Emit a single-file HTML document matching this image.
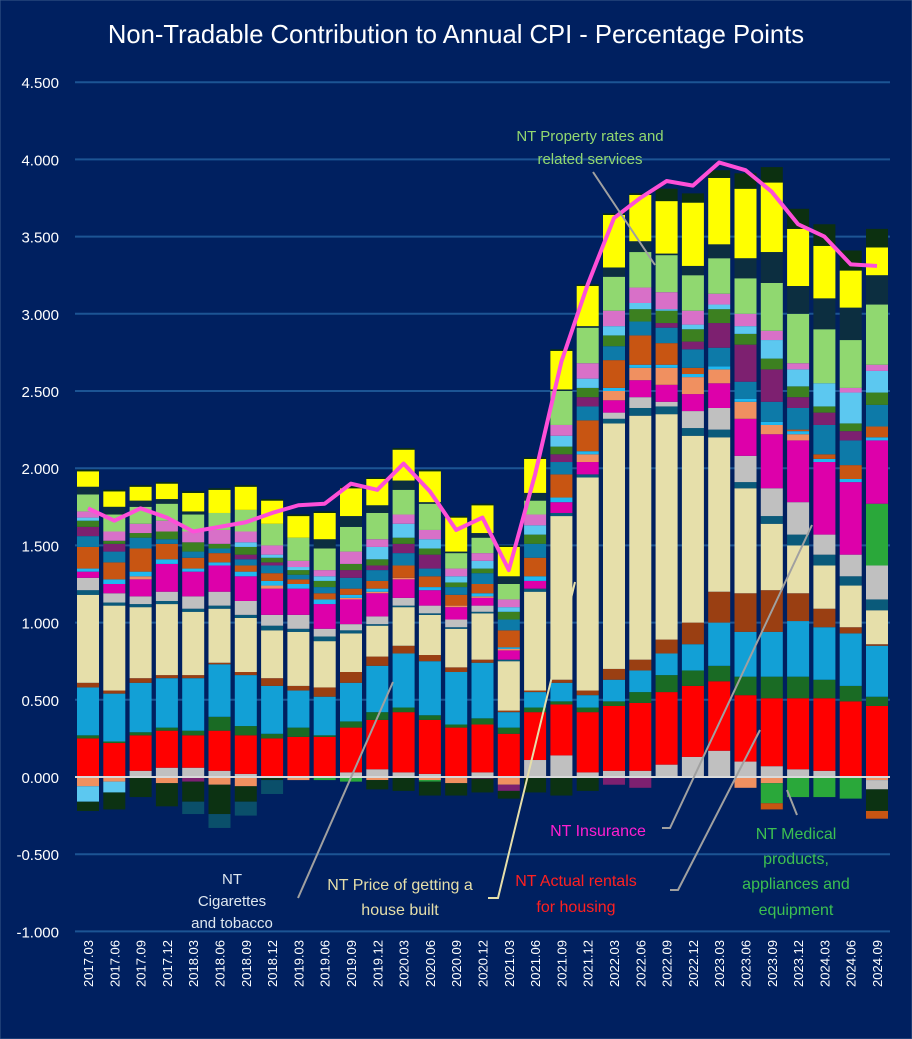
<!DOCTYPE html>
<html><head><meta charset="utf-8"><style>
html,body{margin:0;padding:0;background:#002060;}
svg{display:block;font-family:"Liberation Sans",sans-serif;}
</style></head><body>
<svg id="chart" width="912" height="1039" viewBox="0 0 912 1039" xmlns="http://www.w3.org/2000/svg">
<rect x="0" y="0" width="912" height="1039" fill="#002060" stroke="#3a5a8a" stroke-width="1"/>
<text x="456" y="43" fill="#ffffff" font-size="25.6" text-anchor="middle">Non-Tradable Contribution to Annual CPI - Percentage Points</text>
<g id="grid"></g><g id="bars"></g><g id="zero"></g><g id="line"></g><g id="labels"></g>
<g>
<line x1="593" y1="172" x2="655" y2="265" stroke="#a0a0a0" stroke-width="2"/>
<text fill="#92d870" font-size="15" text-anchor="middle"><tspan x="590" y="141">NT Property rates and</tspan><tspan x="590" y="164">related services</tspan></text>
<line x1="298" y1="898" x2="393" y2="682" stroke="#a0a0a0" stroke-width="2"/>
<text fill="#dfe8f0" font-size="15" text-anchor="middle"><tspan x="232" y="884">NT</tspan><tspan x="232" y="906">Cigarettes</tspan><tspan x="232" y="928">and tobacco</tspan></text>
<polyline points="488,898 498,898 575,582" fill="none" stroke="#e6dfaa" stroke-width="2"/>
<text fill="#e6dfaa" font-size="16" text-anchor="middle"><tspan x="400" y="890">NT Price of getting a</tspan><tspan x="400" y="915">house built</tspan></text>
<polyline points="662,828 670,828 812,525" fill="none" stroke="#a0a0a0" stroke-width="2"/>
<text x="598" y="836" fill="#ff1fd0" font-size="16" text-anchor="middle">NT Insurance</text>
<polyline points="670,890 678,890 760,730" fill="none" stroke="#a0a0a0" stroke-width="2"/>
<text fill="#ff2020" font-size="16" text-anchor="middle"><tspan x="576" y="886">NT Actual rentals</tspan><tspan x="576" y="912">for housing</tspan></text>
<line x1="797" y1="815" x2="787" y2="790" stroke="#a0a0a0" stroke-width="2"/>
<text fill="#3cc050" font-size="16" text-anchor="middle"><tspan x="796" y="839">NT Medical</tspan><tspan x="796" y="864">products,</tspan><tspan x="796" y="889">appliances and</tspan><tspan x="796" y="915">equipment</tspan></text>
</g>
</svg>
<script>
const categories=["2017.03","2017.06","2017.09","2017.12","2018.03","2018.06","2018.09","2018.12","2019.03","2019.06","2019.09","2019.12","2020.03","2020.06","2020.09","2020.12","2021.03","2021.06","2021.09","2021.12","2022.03","2022.06","2022.09","2022.12","2023.03","2023.06","2023.09","2023.12","2024.03","2024.06","2024.09"];
const yTicks=[-1,-0.5,0,0.5,1,1.5,2,2.5,3,3.5,4,4.5];
const g0=[0,0,.04,.06,.06,.04,.02,0,0,0,.03,.05,.03,.02,0,.03,0,.11,.14,.03,.04,.04,.08,.13,.17,.10,.07,.05,.04,0,0];
const rentals=[.25,.22,.23,.24,.21,.26,.25,.25,.26,.26,.29,.32,.39,.35,.32,.31,.28,.31,.33,.39,.42,.44,.47,.46,.45,.43,.44,.46,.47,.49,.46];
const dkgreen=[.02,.01,.02,.02,.03,.09,.06,.03,.06,.01,.04,.05,.03,.03,.02,.04,.04,.03,.02,.03,.03,.07,.11,.10,.10,.12,.14,.14,.12,.10,.06];
const cigarettes=[.31,.31,.32,.32,.34,.34,.33,.31,.24,.25,.25,.30,.35,.35,.34,.36,.10,.10,.12,.08,.14,.14,.14,.17,.28,.29,.29,.36,.34,.34,.33];
const brown=[.03,.02,.03,.02,.02,.01,.02,.05,.03,.06,.07,.06,.05,.04,.03,.02,.01,.01,.02,.03,.07,.07,.09,.14,.20,.25,.27,.18,.12,.04,.01];
const houseBuilt=[.57,.55,.46,.46,.41,.35,.35,.31,.35,.30,.25,.20,.25,.26,.25,.30,.32,.64,1.06,1.38,1.59,1.58,1.46,1.21,1.00,.68,.43,.31,.28,.27,.22];
const teal=[.03,.02,.02,.02,.02,.02,.02,.03,.02,.03,.02,.01,.01,.01,.01,.01,.01,.02,.02,.02,.03,.05,.05,.05,.05,.04,.05,.07,.07,.06,.07];
const gray=[.08,.06,.05,.06,.08,.09,.09,.07,.09,.05,.04,.05,.05,.05,.05,.04,0,0,0,0,.04,.07,.03,.11,.14,.17,.18,.21,.13,.14,.22];
const medical=[0,0,0,0,0,0,0,0,0,0,0,0,0,0,0,0,0,0,0,0,0,0,0,0,0,0,0,0,0,0,.40];
const insurance=[.04,.06,.11,.18,.16,.17,.16,.17,.17,.16,.16,.15,.12,.10,.08,.05,.06,.05,.07,.08,.08,.11,.11,.11,.16,.24,.35,.40,.47,.47,.41];
const salmon=[0,0,.02,0,0,0,0,.02,0,0,.01,.01,.01,0,.01,.01,.01,0,0,.05,.06,.08,.11,.11,.09,.11,.06,.04,0,0,0];
const cyan=[.02,.03,.03,.03,.02,.02,.03,.03,.03,.03,.02,.02,0,.02,0,.02,.01,.03,.03,.02,.02,.02,.02,.02,.02,.02,.02,.02,.02,.02,.02];
const orange=[.14,.11,.15,.10,.07,.06,.04,.05,.03,.04,.04,.05,.08,.07,.07,.06,.11,.12,.15,.20,.18,.19,.14,.04,0,0,0,.01,.03,.09,.07];
const tblue=[.07,.07,.07,.03,.04,.03,.04,.05,.03,.04,.07,.07,.08,.05,.05,.07,.07,.09,.08,.09,.09,.09,.10,.12,.12,.11,.13,.14,.19,.16,.14];
const purple=[.06,.05,0,0,0,0,.03,.02,0,0,.05,.03,.06,.09,0,0,0,0,.05,.06,0,0,.03,.05,.16,.24,.21,.07,.08,.06,0];
const olive=[.04,.02,.03,.05,.06,.03,.05,.03,.03,.04,.04,.04,.04,.04,.03,.03,.05,.06,.05,.06,.07,.08,.08,.08,.09,.07,.07,.07,.04,.05,.08];
const sky=[.02,0,0,0,0,0,.03,.02,.02,.03,0,.08,.09,.06,.04,.05,.03,.06,.07,.06,.06,.04,.01,.03,.03,.05,.12,.11,.15,.20,.14];
const pink=[.04,.06,.06,.07,.07,.09,.07,.06,.04,.04,.08,.05,.06,.06,.05,.05,.05,.07,.07,.10,.10,.10,.11,.09,.07,.08,.06,.04,0,.03,.04];
const propertyRates=[.11,.11,.11,.11,.11,.11,.14,.14,.15,.14,.16,.17,.16,.17,.10,.10,.10,.09,.22,.23,.22,.23,.24,.23,.23,.23,.31,.32,.35,.31,.39];
const darkSeg=[.05,.05,.04,.03,.02,0,0,0,0,.06,.07,.05,.06,.01,.01,.03,.05,.05,.01,.01,.06,.07,.01,.06,.09,.13,.20,.18,.20,.21,.19];
const yellow=[.10,.10,.09,.10,.12,.15,.15,.15,.14,.17,.18,.17,.20,.20,.22,.18,.19,.22,.25,.26,.34,.30,.34,.41,.43,.45,.45,.37,.34,.24,.18];
const topSeg=[.01,.01,.01,.01,.01,.01,.01,.01,.01,.01,.01,.01,.01,.01,.01,.01,.01,.01,.01,.01,.01,.01,.08,.06,.05,.10,.10,.13,.14,.13,.12];
const nSalmon=[.06,.03,0,.04,0,.05,.06,0,.02,0,0,.02,0,.02,.04,0,.05,0,0,0,0,0,0,0,0,.07,.04,0,0,0,.02];
const nGray=[0,0,0,0,0,0,0,0,0,0,0,0,0,0,0,0,0,0,0,0,0,0,0,0,0,0,0,0,0,0,.06];
const nSky=[.10,.07,0,0,0,0,0,0,0,0,0,0,0,0,0,0,0,0,0,0,0,0,0,0,0,0,0,0,0,0,0];
const nPurple=[0,0,0,0,.03,0,0,0,0,0,0,0,0,0,0,.01,.04,0,0,0,.05,.07,0,0,0,0,0,0,0,0,0];
const nMed=[0,0,0,0,0,0,0,0,0,.02,.03,0,0,.01,0,0,0,0,0,0,0,0,0,0,0,0,.13,.13,.13,.14,0];
const nDark=[.06,.11,.13,.15,.13,.19,.10,.02,0,0,0,.06,.09,.09,.08,.09,.05,.10,.12,.09,0,0,0,0,0,0,0,0,0,0,.14];
const nTeal=[0,0,0,0,.08,.09,.09,.09,0,0,0,0,0,0,0,0,0,0,0,0,0,0,0,0,0,0,0,0,0,0,0];
const nOrange=[0,0,0,0,0,0,0,0,0,0,0,0,0,0,0,0,0,0,0,0,0,0,0,0,0,0,.04,0,0,0,.05];
const totalLine=[1.74,1.66,1.74,1.68,1.59,1.62,1.65,1.71,1.76,1.77,1.90,1.86,2.03,1.85,1.60,1.68,1.34,1.96,2.69,3.19,3.62,3.75,3.86,3.83,3.98,3.93,3.79,3.58,3.50,3.32,3.31];

const posSeries=[["gray-base",g0,"#c0c0c0"],["actual-rentals",rentals,"#ff0000"],["dark-green",dkgreen,"#1a6b24"],["cigarettes-tobacco",cigarettes,"#12a0d6"],["brown",brown,"#9a3f12"],["house-built",houseBuilt,"#e6dfaa"],["teal",teal,"#0a5a7a"],["gray",gray,"#c0c0c0"],["medical",medical,"#2aa83a"],["insurance",insurance,"#dd00aa"],["salmon",salmon,"#f09060"],["cyan",cyan,"#20b8f0"],["orange",orange,"#c85512"],["teal-blue",tblue,"#0d7aa8"],["purple",purple,"#7d2070"],["olive",olive,"#3c8020"],["sky",sky,"#5cc8f0"],["pink",pink,"#d870c8"],["property-rates",propertyRates,"#90d870"],["dark",darkSeg,"#0c2e40"],["yellow",yellow,"#ffff00"],["top",topSeg,"#0c3010"]];
const negSeries=[["neg-salmon",nSalmon,"#f09060"],["neg-gray",nGray,"#c0c0c0"],["neg-sky",nSky,"#5cc8f0"],["neg-purple",nPurple,"#7d2070"],["neg-medical",nMed,"#2aa83a"],["neg-dark",nDark,"#0c3212"],["neg-teal",nTeal,"#0a4f6a"],["neg-orange",nOrange,"#c85512"]];

const NS="http://www.w3.org/2000/svg";
function y(v){return 777-v*154.4;}
function x(i){return 88+i*26.3;}
const BW=22;
function mk(tag,attrs,parent){const e=document.createElementNS(NS,tag);for(const k in attrs)e.setAttribute(k,attrs[k]);parent.appendChild(e);return e;}
const grid=document.getElementById('grid'),bars=document.getElementById('bars'),zero=document.getElementById('zero'),lineG=document.getElementById('line'),labels=document.getElementById('labels');
yTicks.forEach(t=>{
  if(t!==0){const l=mk('line',{x1:75,x2:890,y1:y(t),y2:y(t),stroke:'#1c5494','stroke-width':2},grid);
  
  }
  const tx=mk('text',{x:59,y:y(t)+6,fill:'#ffffff','font-size':15,'text-anchor':'end'},labels);
  tx.textContent=t.toFixed(3);
  
  
});
categories.forEach((c,i)=>{
  let acc=0;
  posSeries.forEach(s=>{const v=s[1][i];if(v>0){const r=mk('rect',{x:x(i)-BW/2,y:y(acc+v),width:BW,height:v*154.4,fill:s[2]},bars);
    
    }acc+=v;});
  let nacc=0;
  negSeries.forEach(s=>{const v=s[1][i];if(v>0){const r=mk('rect',{x:x(i)-BW/2,y:y(-nacc),width:BW,height:v*154.4,fill:s[2]},bars);
    
    }nacc+=v;});
  const tx=mk('text',{transform:'translate('+(x(i)+5)+',940) rotate(-90)',fill:'#ffffff','font-size':13,'text-anchor':'end'},labels);
  tx.textContent=c;
  
  
});
const zl=mk('line',{x1:75,x2:890,y1:y(0),y2:y(0),stroke:'#d9d9d9','stroke-width':2},zero);


const pl=mk('polyline',{points:totalLine.map((v,i)=>x(i)+','+y(v)).join(' '),fill:'none',stroke:'#ff4fd8','stroke-width':4,'stroke-linejoin':'round'},lineG);


</script>
</body></html>
